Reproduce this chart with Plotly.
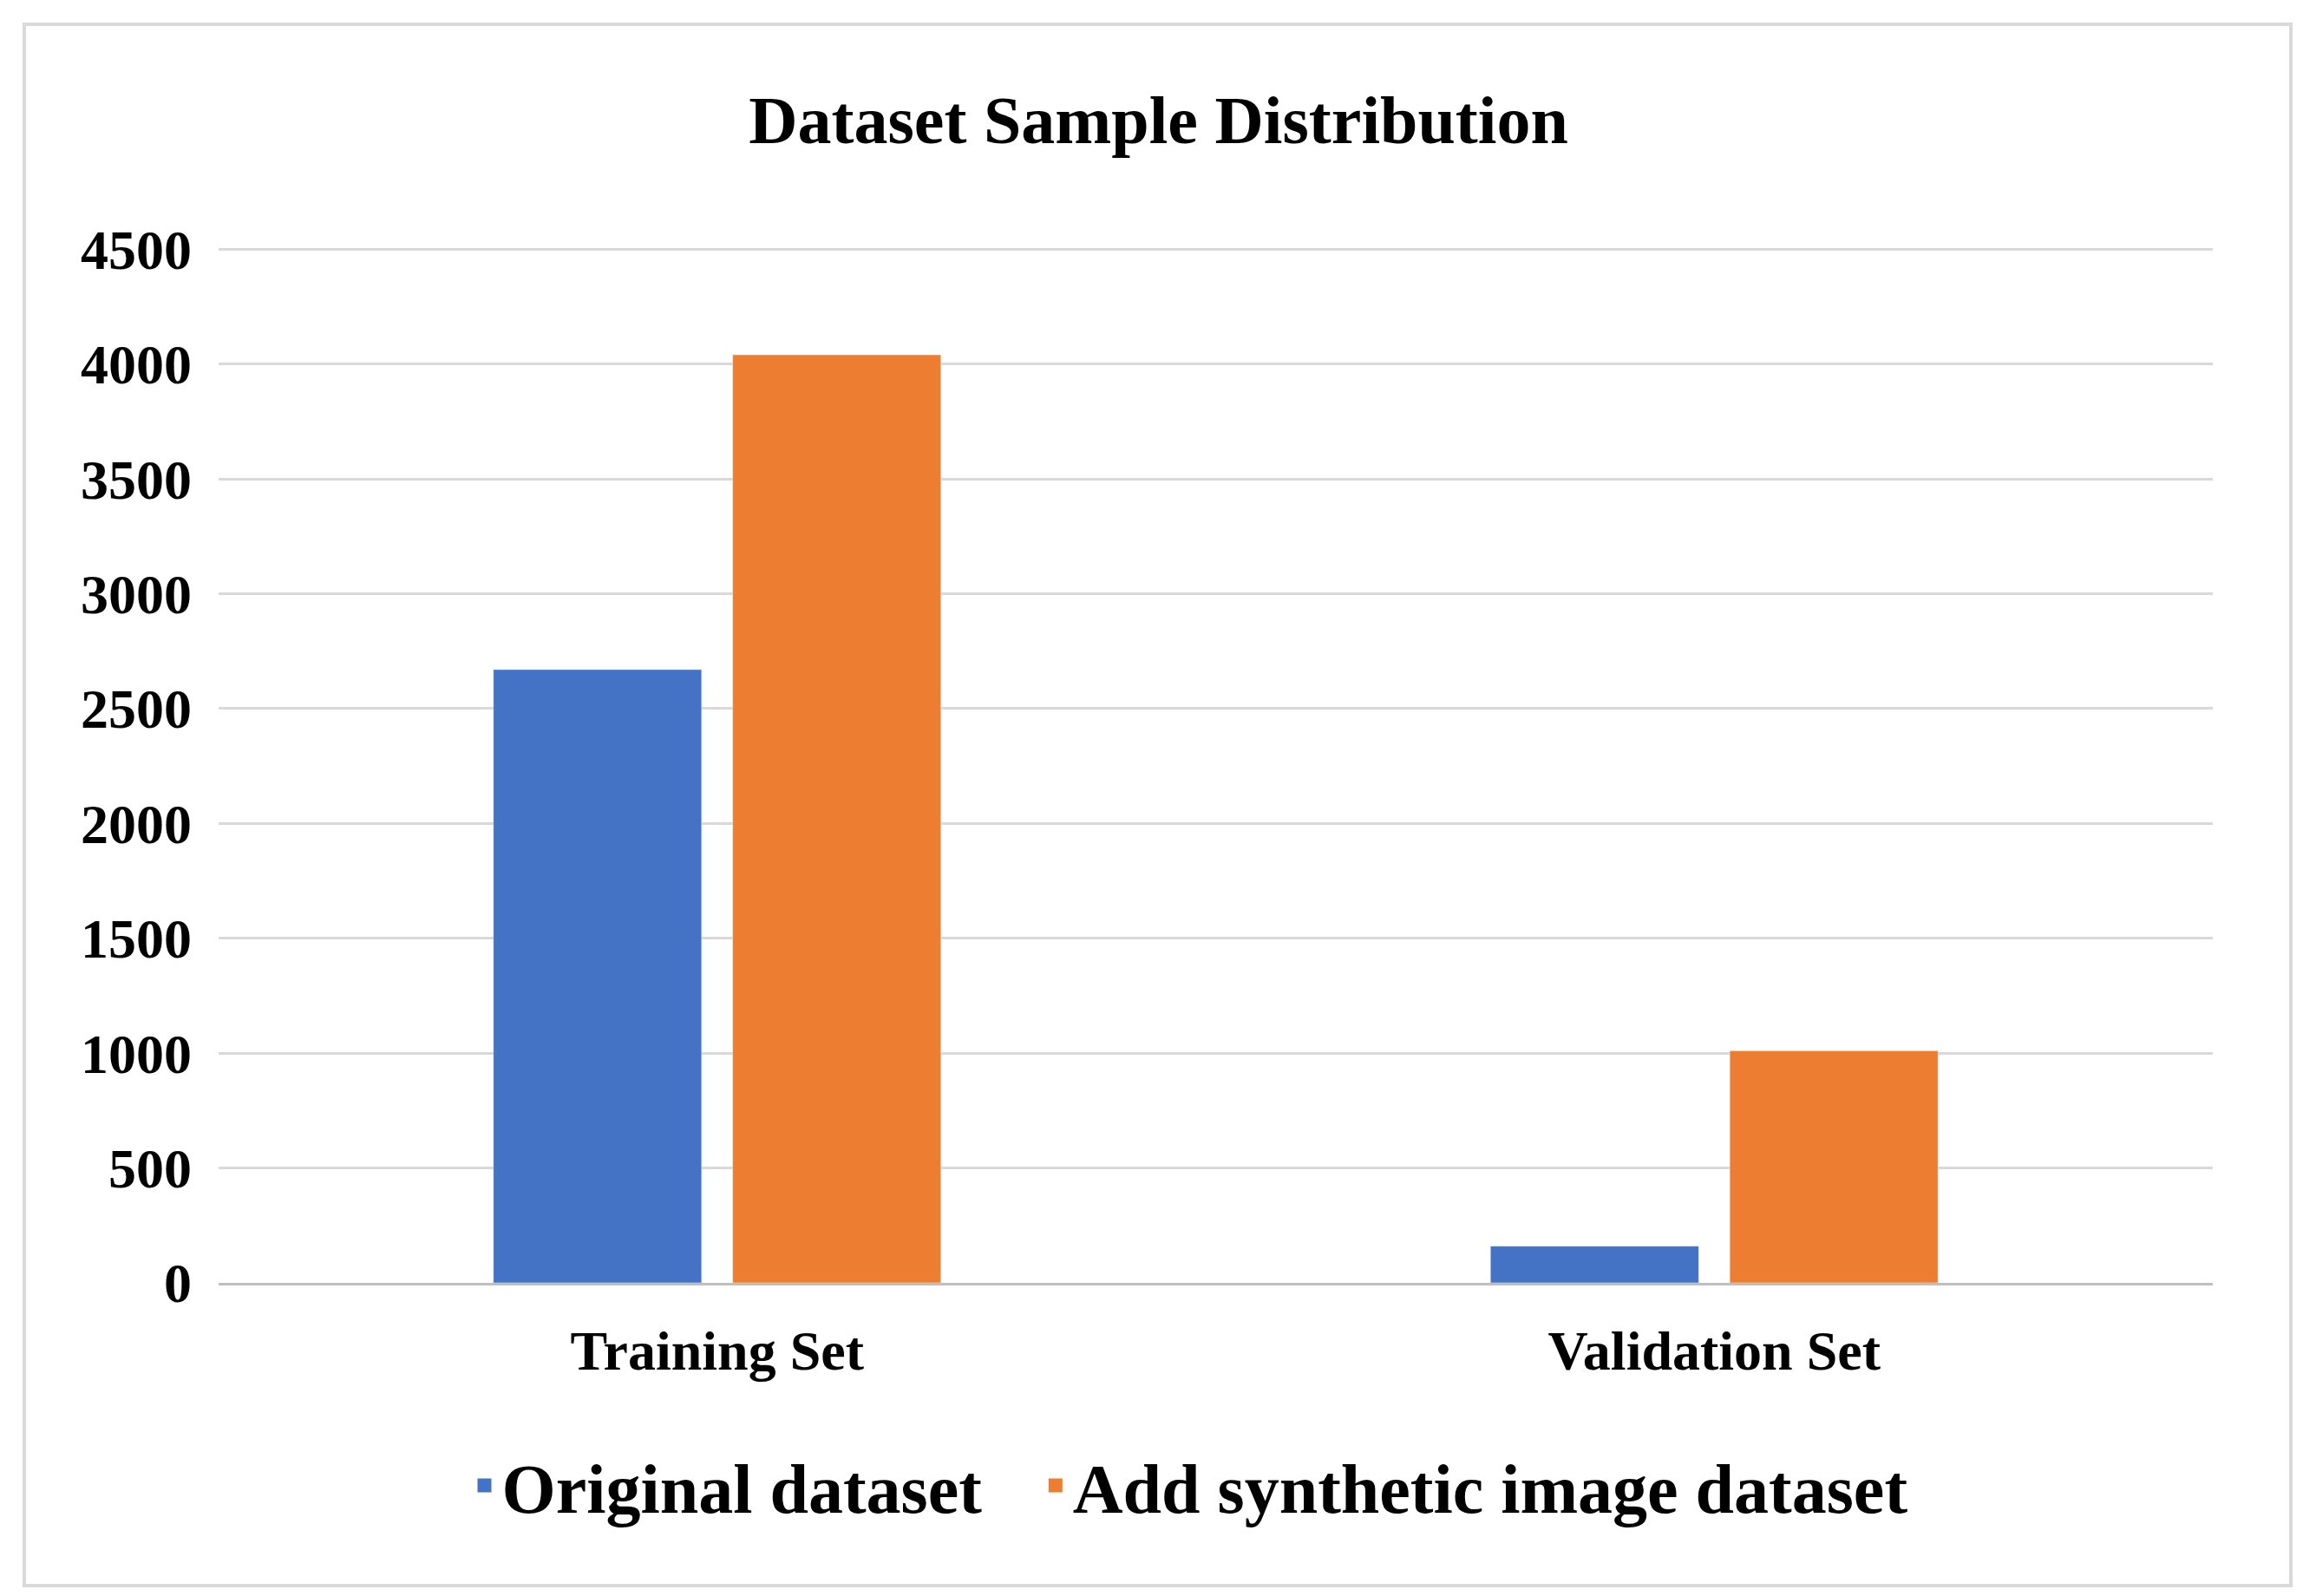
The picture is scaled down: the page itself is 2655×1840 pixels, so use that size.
import plotly.graph_objects as go

categories = ["Training Set", "Validation Set"]
original = [2670, 160]
synthetic = [4040, 1010]
series_names = ["Original dataset", "Add synthetic image dataset"]
colors = ["#4472C4", "#ED7D31"]
tick_vals = [0, 500, 1000, 1500, 2000, 2500, 3000, 3500, 4000, 4500]

font = "Liberation Serif"
fig = go.Figure()
fig.add_bar(x=categories, y=original, name=series_names[0], marker_color=colors[0], showlegend=False)
fig.add_bar(x=categories, y=synthetic, name=series_names[1], marker_color=colors[1], showlegend=False)
for name, c in zip(series_names, colors):
    fig.add_scatter(x=[None], y=[None], mode="markers", name=f"<b>{name}</b>   ",
                    marker=dict(symbol="square", size=38, color=c))

fig.update_layout(
    width=2655, height=1840,
    paper_bgcolor="white", plot_bgcolor="white",
    margin=dict(l=244, r=112, t=274, b=369),
    barmode="group", bargap=0.52, bargroupgap=0.13,
    title=dict(text="<b>Dataset Sample Distribution</b>", x=0.5, xanchor="center",
               y=1 - 130/1840, yanchor="middle", font=dict(family=font, size=78, color="black")),
    font=dict(family=font, color="black"),
    legend=dict(orientation="h", x=0.5, xanchor="center", y=-0.195, yanchor="middle",
                font=dict(family=font, size=80, color="black"), itemwidth=30,
                traceorder="normal"),
    shapes=[dict(type="rect", xref="paper", yref="paper",
                 x0=(20-244)/2299, x1=(2633-244)/2299,
                 y0=-(1820-1471)/1197, y1=1+(274-20)/1197,
                 line=dict(color="#d9d9d9", width=4), layer="below")],
)
fig.update_xaxes(tickfont=dict(family=font, size=64), showline=True, linecolor="#bfbfbf",
                 linewidth=3, ticks="", ticklabelstandoff=20,
                 ticktext=[f"<b>{c}</b>" for c in categories], tickvals=categories)
fig.update_yaxes(range=[0, 4520], tickvals=tick_vals,
                 ticktext=[f"<b>{v}</b>" for v in tick_vals],
                 tickfont=dict(family=font, size=64), gridcolor="#d9d9d9", gridwidth=3,
                 zeroline=False, ticklabelstandoff=30)
fig.write_html("out.html")
